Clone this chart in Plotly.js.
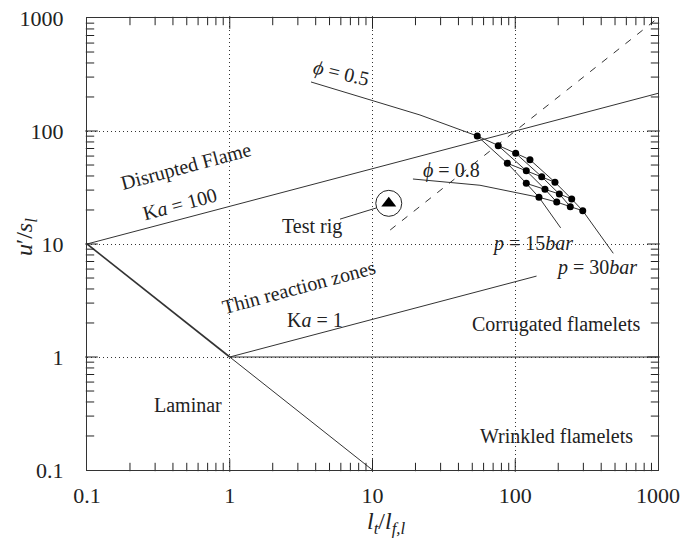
<!DOCTYPE html>
<html>
<head>
<meta charset="utf-8">
<script src="https://cdn.plot.ly/plotly-3.0.1.min.js"></script>
<style>html,body{margin:0;padding:0;background:#fff;}#chart{width:687px;height:545px;}</style>
</head>
<body>
<div id="chart"></div>
<script>
// ---- Data ----
// regime boundaries
const kaHundredX = [0.1, 1000];
const kaHundredY = [10, 215.4];
const kaOneX = [1, 141];
const kaOneY = [1, 5.2];
const reOneUpperX = [0.1, 1];
const reOneUpperY = [10, 1];
const reOneLowerX = [1, 10];
const reOneLowerY = [1, 0.1];
const unityX = [1, 1000];
const unityY = [1, 1];
const diagX = [13.3, 1000];
const diagY = [13.3, 1000];

// operating-point grid: rows = equivalence ratio, columns = pressure
const phiValues = [0.5, 0.6, 0.7, 0.8];
const pressures = [15, 20, 25, 30];
const gridX = [
  [54.2, 76.0, 100.7, 126.8],
  [88.0, 119.5, 153.2, 189.8],
  [119.5, 161.5, 203.6, 248.5],
  [146.6, 195.2, 243.0, 297.0]
];
const gridY = [
  [90.3, 74.1, 63.5, 55.7],
  [51.8, 44.5, 39.4, 35.2],
  [34.4, 30.5, 27.7, 25.0],
  [25.9, 23.5, 21.4, 19.7]
];
// leader tails of labelled curves
const phi05TailX = [3.71, 21.5];
const phi05TailY = [271.5, 138.6];
const phi08TailX = [19.2, 56.6];
const phi08TailY = [37.6, 33.1];
const p15TailX = [208];
const p15TailY = [13.9];
const p30TailX = [486];
const p30TailY = [8.27];

// test rig
const rigX = [13.0];
const rigY = [22.9];
const rigLeaderX = [5.92, 10.58];
const rigLeaderY = [16.6, 20.8];

// tick labels
const tickVals = [0.1, 1, 10, 100, 1000];
const tickText = ['0.1', '1', '10', '100', '1000'];

// ---- Build traces ----
const LC = '#333';
const traces = [];
function line(x, y, w, dash) {
  traces.push({x: x, y: y, type: 'scatter', mode: 'lines', hoverinfo: 'skip',
    line: {color: LC, width: w, dash: dash || 'solid'}, showlegend: false});
}
line(kaHundredX, kaHundredY, 1);
line(kaOneX, kaOneY, 1);
line(reOneUpperX, reOneUpperY, 1.6);
line(reOneLowerX, reOneLowerY, 1);
line(unityX, unityY, 1);
line(diagX, diagY, 1, '7px,8px');

// phi rows
for (let i = 0; i < phiValues.length; i++) {
  let xs = gridX[i].slice(), ys = gridY[i].slice();
  if (i === 0) { xs = phi05TailX.concat(xs); ys = phi05TailY.concat(ys); }
  if (i === phiValues.length - 1) { xs = phi08TailX.concat(xs); ys = phi08TailY.concat(ys); }
  line(xs, ys, 1);
}
// pressure columns
for (let j = 0; j < pressures.length; j++) {
  let xs = gridX.map(r => r[j]), ys = gridY.map(r => r[j]);
  if (j === 0) { xs = xs.concat(p15TailX); ys = ys.concat(p15TailY); }
  if (j === pressures.length - 1) { xs = xs.concat(p30TailX); ys = ys.concat(p30TailY); }
  line(xs, ys, 1);
}
// points
traces.push({x: gridX.flat(), y: gridY.flat(), type: 'scatter', mode: 'markers', hoverinfo: 'skip',
  marker: {color: '#000', size: 7}, showlegend: false});
// test rig
line(rigLeaderX, rigLeaderY, 1);
traces.push({x: rigX, y: rigY, type: 'scatter', mode: 'markers', hoverinfo: 'skip',
  marker: {color: '#fff', size: 26, line: {color: '#222', width: 1}}, showlegend: false});
traces.push({x: rigX, y: rigY, type: 'scatter', mode: 'markers', hoverinfo: 'skip',
  marker: {color: '#000', size: 13, symbol: 'triangle-up'}, showlegend: false});

// ---- inside tick marks on all four sides (axis decoration, as line markers) ----
const minorVals = [];
for (let d = -1; d < 3; d++) for (let k = 2; k <= 9; k++) minorVals.push(k * Math.pow(10, d));
const majorInner = [1, 10, 100];
const X0 = 0.1, X1 = 1000, Y0 = 0.1, Y1 = 1000;
const PXDEC = 142.75, PYDEC = 113;   // pixels per decade
function tickMarkers(vals, len) {
  const hx = Math.pow(10, (len / 2) / PXDEC), hy = Math.pow(10, (len / 2) / PYDEC);
  const vx = [], vy = [], hxs = [], hys = [];
  vals.forEach(v => {
    vx.push(v, v); vy.push(Y0 * hy, Y1 / hy);
    hxs.push(X0 * hx, X1 / hx); hys.push(v, v);
  });
  traces.push({x: vx, y: vy, type: 'scatter', mode: 'markers', hoverinfo: 'skip', cliponaxis: false,
    marker: {symbol: 'line-ns-open', size: len, color: '#222', line: {color: '#222', width: 1}}, showlegend: false});
  traces.push({x: hxs, y: hys, type: 'scatter', mode: 'markers', hoverinfo: 'skip', cliponaxis: false,
    marker: {symbol: 'line-ew-open', size: len, color: '#222', line: {color: '#222', width: 1}}, showlegend: false});
}
tickMarkers(minorVals, 6);
tickMarkers(majorInner, 9);

const FONT = 'Liberation Serif, Times New Roman, serif';
function axis(extra) {
  return Object.assign({
    type: 'log', range: [-1, 3], tickmode: 'array', tickvals: tickVals, ticktext: tickText,
    ticks: '', showline: true, linecolor: LC, linewidth: 1, mirror: true,
    showgrid: true, gridcolor: '#333', griddash: '1px,3px', gridwidth: 1,
    zeroline: false, tickfont: {family: FONT, size: 22, color: '#222'}
  }, extra);
}

function ann(text, lx, ly, angle, size) {
  return {text: text, x: lx, y: ly, xref: 'x', yref: 'y', showarrow: false,
    textangle: angle || 0, font: {family: FONT, size: size || 20, color: '#222'}};
}
const L = Math.log10;
const annotations = [
  ann('Disrupted Flame', L(0.494), L(49.0), -15),
  ann('K<i>a</i> = 100', L(0.448), L(22.6), -15),
  ann('Test rig', L(3.77), L(14.4), 0),
  ann('Thin reaction zones', L(3.05), L(4.16), -15),
  ann('K<i>a</i> = 1', L(3.95), L(2.12), 0),
  ann('Corrugated flamelets', L(193), L(1.92), 0),
  ann('Wrinkled flamelets', L(196), L(0.2), 0),
  ann('Laminar', L(0.51), L(0.376), 0),
  ann('<i>ϕ</i> = 0.5', L(6.11), L(326), 13),
  ann('<i>ϕ</i> = 0.8', L(35.5), L(44.3), 0),
  ann('<i>p</i> = 15<i>bar</i>', L(133), L(10.2), 0),
  ann('<i>p</i> = 30<i>bar</i>', L(368), L(6.25), 0),
  {text: '<i>u</i>′/<i>s<sub>l</sub></i>', xref: 'paper', yref: 'paper', x: -0.107, y: 0.515,
   xanchor: 'center', yanchor: 'middle',
   showarrow: false, textangle: -90, font: {family: FONT, size: 24, color: '#222'}},
  {text: '<i>l<sub>t</sub></i>/<i>l<sub>f,l</sub></i>', xref: 'paper', yref: 'paper', x: 0.525, y: -0.118,
   xanchor: 'center', yanchor: 'middle',
   showarrow: false, font: {family: FONT, size: 24, color: '#222'}}
];

const layout = {
  width: 687, height: 545,
  margin: {l: 87, r: 29, t: 18, b: 75},
  paper_bgcolor: '#fff', plot_bgcolor: '#fff',
  showlegend: false,
  xaxis: axis({ticklabelstandoff: 6}),
  yaxis: axis({ticklabelstandoff: 18}),
  annotations: annotations,
  font: {family: FONT}
};

Plotly.newPlot('chart', traces, layout, {displayModeBar: false, staticPlot: true});
</script>
</body>
</html>
